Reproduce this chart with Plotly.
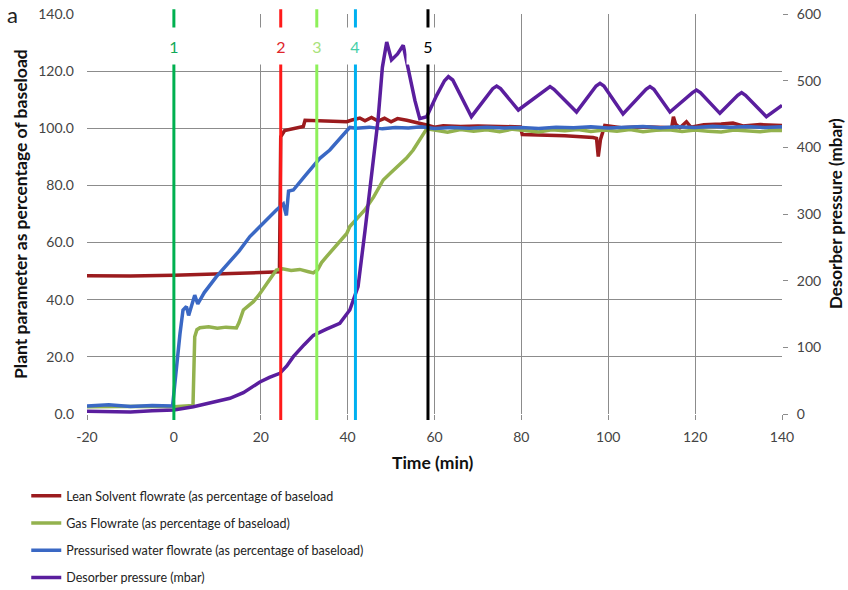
import plotly.graph_objects as go

# ---- data -------------------------------------------------------------
lean_t = [-20, -10, 0, 10, 20, 24.3, 24.6, 25.5, 29.8, 30.2, 35, 39.8, 41, 42.8, 44,
          45.5, 47, 48.5, 50, 51.5, 53.6, 55, 57, 58.2, 60, 62, 66, 70, 75, 79.8,
          80.2, 85, 90, 96.5, 97.3, 97.7, 98.2, 99.2, 103, 108, 112, 114.6, 115,
          115.5, 116.5, 118, 119, 122, 126, 128.7, 131, 135, 140]
lean_v = [48.4, 48.3, 48.6, 48.9, 49.5, 49.8, 97.0, 99.2, 100.6, 102.8, 102.4, 102.3,
          102.9, 103.6, 102.6, 103.8, 102.5, 103.5, 102.3, 103.4, 102.8, 102.2, 101.6,
          101.2, 100.4, 100.9, 100.6, 100.8, 100.5, 100.5, 97.8, 97.6, 97.4, 96.8, 96.5,
          90.1, 96.0, 101.0, 100.2, 100.5, 100.3, 100.2, 104.0, 101.5, 100.2, 102.3,
          100.4, 101.2, 101.5, 101.8, 100.8, 101.3, 101.0]

gas_t = [-20, -15, -10, -5, 0, 4.4, 4.8, 5.3, 6, 8, 10, 12, 14.4, 15, 16, 17, 18.3,
         19.5, 21.3, 22.5, 23.6, 25, 27, 29, 31, 32.1, 33.1, 34, 35.1, 36.5, 38, 39.8,
         40.5, 42, 44, 46, 48.2, 50, 52, 53.5, 55.1, 56.5, 58.2, 60, 63, 66, 69, 72,
         75, 78, 81, 84, 87, 90, 93, 96, 99, 102, 105, 108, 111, 114, 117, 120, 123,
         126, 129, 132, 135, 138, 140]
gas_v = [2.5, 2.6, 2.4, 2.7, 2.5, 3.0, 27.0, 29.5, 30.2, 30.5, 30.0, 30.4, 30.1, 32.0,
         36.4, 37.5, 39.3, 41.5, 45.7, 48.0, 50.4, 50.8, 50.2, 50.6, 49.8, 49.4, 50.5,
         53.0, 55.0, 57.5, 60.2, 63.2, 65.6, 68.0, 71.5, 76.0, 81.9, 84.5, 87.5, 89.5,
         92.4, 95.5, 99.8, 99.4, 98.6, 99.6, 99.0, 99.5, 98.8, 99.7, 99.2, 98.7, 99.5,
         99.1, 99.6, 98.9, 99.4, 99.0, 99.6, 98.8, 99.3, 99.5, 98.9, 99.4, 99.0, 98.7,
         99.4, 99.1, 98.8, 99.3, 99.2]

water_t = [-20, -15, -10, -5, -0.3, 0.6, 1.4, 2.1, 2.9, 3.4, 4.0, 4.8, 5.5, 7, 9.8,
           12.9, 15, 17.5, 20, 22, 23.6, 25.2, 25.9, 26.4, 27.5, 30, 33.6, 35.9, 38,
           40.5, 42, 45, 48, 51, 54, 57, 60, 64, 68, 72, 76, 80, 84, 88, 92, 96, 100,
           104, 108, 112, 116, 120, 124, 128, 132, 136, 140]
water_v = [2.8, 3.2, 2.6, 3.0, 2.8, 17.7, 28.0, 36.4, 37.6, 34.5, 38.0, 41.6, 38.5,
           42.5, 48.1, 53.5, 57.0, 62.1, 66.0, 69.0, 71.4, 73.5, 69.5, 78.0, 78.4, 83.0,
           89.5, 92.4, 96.0, 100.3, 100.0, 100.4, 99.8, 100.3, 100.1, 100.5, 99.9, 100.3,
           100.0, 100.4, 100.1, 100.3, 99.9, 100.4, 100.2, 100.5, 100.1, 100.3, 100.6,
           100.2, 100.5, 100.3, 100.7, 100.4, 100.6, 100.3, 100.5]

press_t = [-20, -10, -5, 0, 4.5, 8, 12.9, 16, 19.8, 22, 24.4, 26, 27.5, 30, 32.1, 35,
           38.2, 40.5, 42.4, 44, 45.9, 47, 48, 49.0, 50.1, 51.5, 52.8, 54, 55.5, 56.6,
           58.2, 60.5, 62.3, 63.2, 64.2, 68.5, 73.4, 74.3, 75.2, 79.3, 85.7, 86.6, 87.5,
           92.7, 97.2, 98.1, 99.0, 103.4, 108.7, 109.6, 110.5, 114.2, 119.4, 120.3,
           121.2, 125.7, 129.8, 130.7, 131.6, 136.4, 140]
press_v = [4, 3, 5, 6, 11, 16, 23.5, 32, 48, 55, 61, 72, 86, 104, 118, 127, 136, 156,
           191, 275, 381, 441, 520, 558, 531, 540, 553, 515, 470, 443, 446, 478, 500,
           506, 501, 446, 488, 492, 488, 456, 487, 491, 487, 453, 492, 496, 492, 450,
           487, 491, 487, 453, 482, 486, 482, 451, 478, 482, 478, 446, 463]

event_times = [0, 24.6, 32.9, 41.8, 58.5]
event_labels = ["1", "2", "3", "4", "5"]

x_ticks = [-20, 0, 20, 40, 60, 80, 100, 120, 140]
x_ticktext = ["-20", "0", "20", "40", "60", "80", "100", "120", "140"]

series_names = [
    "Lean Solvent flowrate (as percentage of baseload",
    "Gas Flowrate (as percentage of baseload)",
    "Pressurised water flowrate (as percentage of baseload)",
    "Desorber pressure (mbar)",
]
x_title = "Time (min)"
y_title = "Plant parameter as percentage of baseload"
y2_title = "Desorber pressure (mbar)"

# ---- styling ----------------------------------------------------------
FONT = "Lato"
series_colors = ["#9B1B1E", "#93B24E", "#3A68C4", "#5A1E9E"]
event_line_colors = ["#00B050", "#FF1A1A", "#8EF05A", "#00B0F0", "#000000"]
event_text_colors = ["#12A85A", "#E0262B", "#A8E27A", "#45CFA8", "#000000"]
GRID = "#8C8C8C"

fig = go.Figure()
fig.add_trace(go.Scatter(x=lean_t, y=lean_v, name=series_names[0], mode="lines",
                         line=dict(color=series_colors[0], width=3.5), legendgroup="a"))
fig.add_trace(go.Scatter(x=gas_t, y=gas_v, name=series_names[1], mode="lines",
                         line=dict(color=series_colors[1], width=3.5), legendgroup="b"))
fig.add_trace(go.Scatter(x=water_t, y=water_v, name=series_names[2], mode="lines",
                         line=dict(color=series_colors[2], width=3.5), legendgroup="c"))
fig.add_trace(go.Scatter(x=press_t, y=press_v, name=series_names[3], mode="lines",
                         line=dict(color=series_colors[3], width=3.5),
                         yaxis="y2", legendgroup="d"))

# event markers: vertical lines with labelled white boxes
for t, lab, lc, tc in zip(event_times, event_labels, event_line_colors, event_text_colors):
    fig.add_shape(type="line", xref="x", yref="paper", x0=t, x1=t, y0=-0.015, y1=1.012,
                  line=dict(color=lc, width=3), layer="above")
    fig.add_annotation(x=t, xref="x", y=0.921, yref="paper", text=lab, showarrow=False,
                       font=dict(family=FONT, size=16, color=tc), bgcolor="white",
                       width=40, height=34, xanchor="center", yanchor="middle")

# panel letter
fig.add_annotation(x=-0.107, xref="paper", y=0.9975, yref="paper", text="a",
                   showarrow=False, font=dict(family=FONT, size=22, color="#222"),
                   xanchor="center", yanchor="middle")

tickfont = dict(family=FONT, size=14, color="#444")
titlefont = dict(family=FONT, size=17.5, color="#111", weight="bold")

# axis titles placed at fixed positions around the plot area
fig.add_annotation(x=0.498, xref="paper", y=-0.12, yref="paper", text=x_title,
                   showarrow=False, font=titlefont, xanchor="center", yanchor="middle")
fig.add_annotation(x=-0.0964, xref="paper", y=0.5, yref="paper", text=y_title,
                   textangle=-90, showarrow=False, font=titlefont,
                   xanchor="center", yanchor="middle")
fig.add_annotation(x=1.0763, xref="paper", y=0.5, yref="paper", text=y2_title,
                   textangle=-90, showarrow=False,
                   font=dict(family=FONT, size=17, color="#111", weight="bold"),
                   xanchor="center", yanchor="middle")

fig.update_layout(
    width=848, height=590,
    margin=dict(l=87, r=66, t=14, b=176, autoexpand=False),
    paper_bgcolor="white", plot_bgcolor="white",
    font=dict(family=FONT),
    xaxis=dict(range=[-20, 140], tickvals=x_ticks, ticktext=x_ticktext,
               showgrid=True, gridcolor=GRID, gridwidth=1.3, zeroline=False,
               ticks="outside", ticklen=5, tickcolor=GRID, tickwidth=1.3,
               ticklabelstandoff=5, tickfont=tickfont, showline=False),
    yaxis=dict(range=[0, 140], dtick=20, tickformat=".1f", showgrid=True,
               gridcolor=GRID, gridwidth=1.3, zeroline=False, tickfont=tickfont,
               ticklabelstandoff=12),
    yaxis2=dict(range=[0, 600], dtick=100, overlaying="y", side="right",
                showgrid=False, zeroline=False, ticks="outside", ticklen=5,
                tickcolor=GRID, tickwidth=1.3, ticklabelstandoff=6, tickfont=tickfont),
    legend=dict(x=-0.0874, y=-0.1675, xanchor="left", yanchor="top",
                orientation="v", font=dict(family=FONT, size=12.5, color="#222"),
                tracegroupgap=8, bgcolor="rgba(0,0,0,0)"),
    showlegend=True,
)

fig.write_html("out.html")
